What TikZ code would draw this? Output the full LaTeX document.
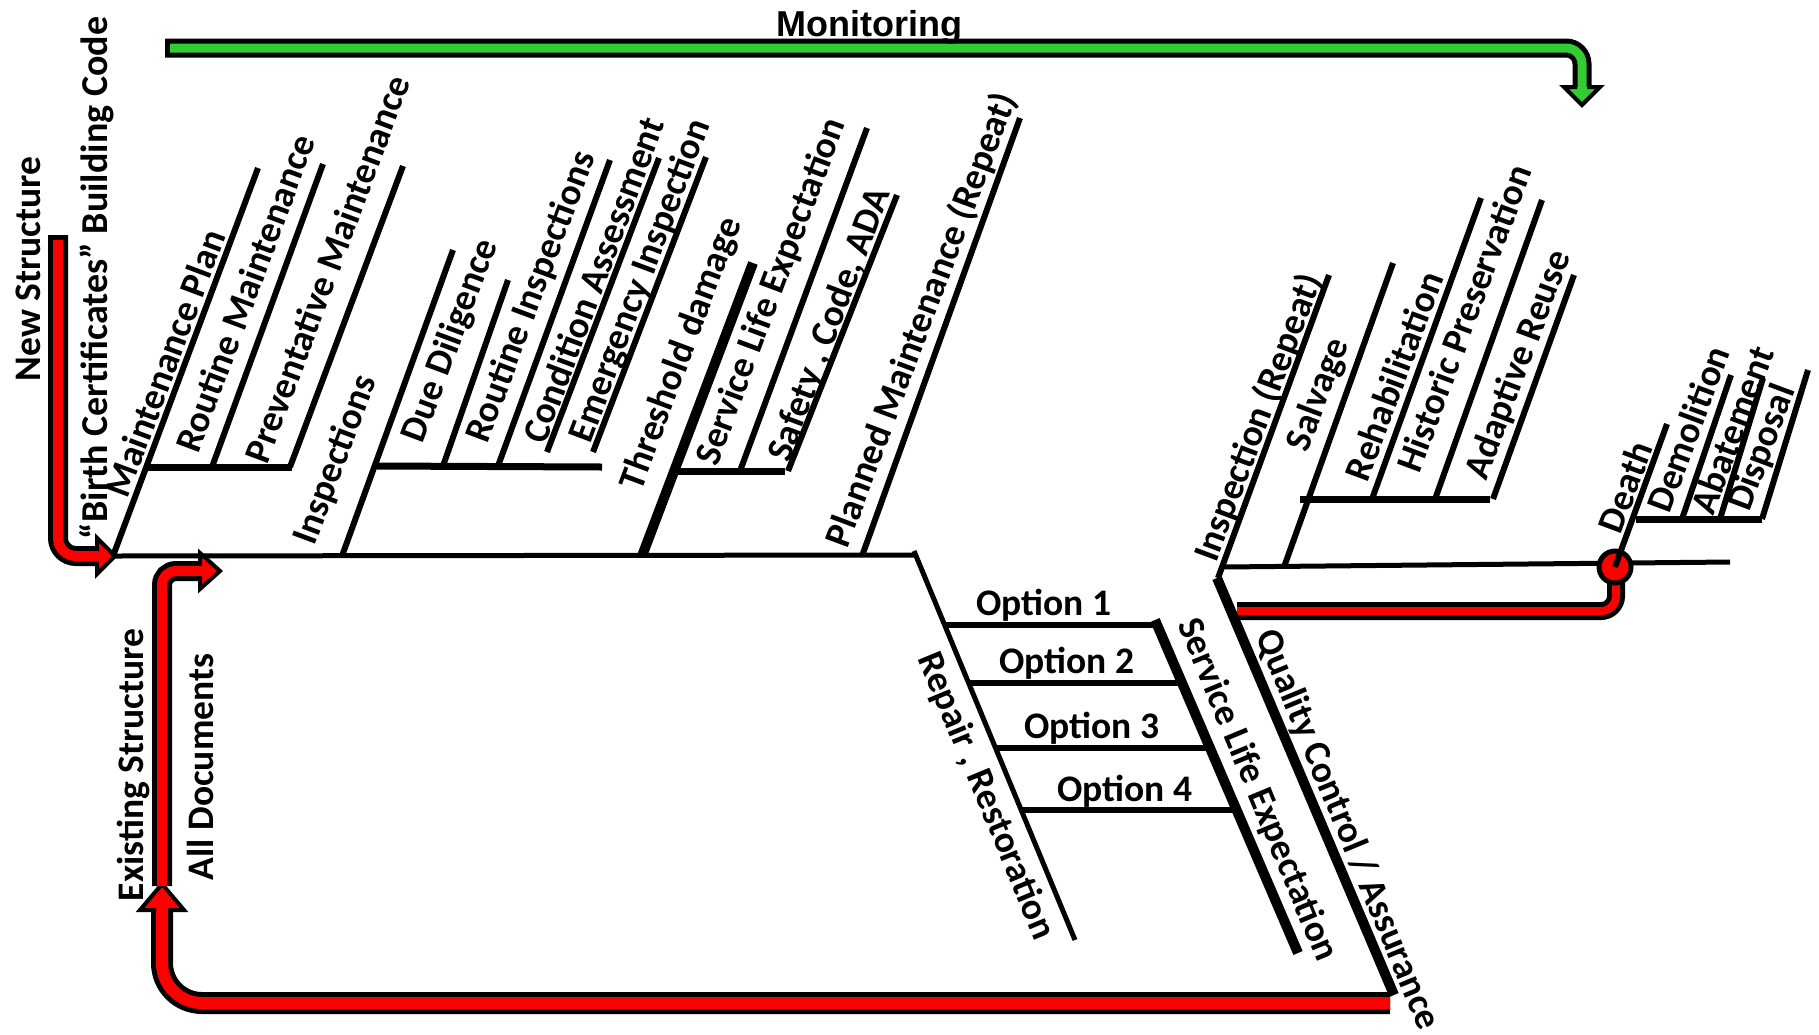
\documentclass[tikz,border=0pt]{standalone}
\usepackage{fontspec}
\setmainfont{Carlito}
\newfontfamily\monfont{Liberation Sans}
\definecolor{lgreen}{RGB}{50,205,50}
\begin{document}
\begin{tikzpicture}[x=1pt,y=-1pt,
  lbl/.style={font=\fontsize{37.5}{42}\selectfont\bfseries, inner sep=0pt},
  up/.style={lbl, rotate=69.5},
  dn/.style={lbl, rotate=-67.5},
  vert/.style={lbl, rotate=90},
  spine/.style={line width=5pt},
  branch/.style={line width=6pt},
  subsp/.style={line width=7pt},
  heavy/.style={line width=10pt},
  headst/.style={draw=black, line width=4pt, line join=miter, miter limit=20}
]
\useasboundingbox (0,0) rectangle (1819,1034);

% ---------- coordinates ----------
\coordinate (s0) at (113,556);
\coordinate (s1) at (916,555);
\coordinate (r0) at (914,551);
\coordinate (r1) at (1075,940);
% cluster A
\coordinate (a0) at (258,168);
\coordinate (sa0) at (148,467);
\coordinate (sa1) at (292,467);
\coordinate (a1b) at (212,467);
\coordinate (a1t) at (323,164);
\coordinate (a2b) at (290,467);
\coordinate (a2t) at (403,166);
% cluster B
\coordinate (b0b) at (342,556);
\coordinate (b0t) at (453,250);
\coordinate (sb0) at (377,466);
\coordinate (sb1) at (602,467);
\coordinate (b1b) at (443,466);
\coordinate (b1t) at (508,280);
\coordinate (b2b) at (498,466);
\coordinate (b2t) at (610,160);
\coordinate (b3b) at (547,452);
\coordinate (b3t) at (659,158);
\coordinate (b4b) at (593,452);
\coordinate (b4t) at (706,157);
% cluster C
\coordinate (c0b) at (642,556);
\coordinate (c0t) at (753,263);
\coordinate (sc0) at (677,471);
\coordinate (sc1) at (785,471);
\coordinate (c1b) at (740,471);
\coordinate (c1t) at (867,128);
\coordinate (c2b) at (788,471);
\coordinate (c2t) at (897,195);
\coordinate (pmb) at (862,556);
\coordinate (pmt) at (1020,118);
% options
\coordinate (o1a) at (945,625);  \coordinate (o1b) at (1160,625);
\coordinate (o2a) at (969,683);  \coordinate (o2b) at (1183,683);
\coordinate (o3a) at (995,748);  \coordinate (o3b) at (1211,748);
\coordinate (o4a) at (1021,810); \coordinate (o4b) at (1238,810);
\coordinate (sl0) at (1155,620);
\coordinate (sl1) at (1298,953);
\coordinate (qc0) at (1217,578);
\coordinate (qc1) at (1394,995);
% right part
\coordinate (rs0) at (1223,567);
\coordinate (rs1) at (1730,562);
\coordinate (ir0) at (1218,578);
\coordinate (ir1) at (1329,275);
\coordinate (sv0) at (1284,567);
\coordinate (sv1) at (1393,263);
\coordinate (sd0) at (1300,499);
\coordinate (sd1) at (1490,499);
\coordinate (rh0) at (1372,499);
\coordinate (rh1) at (1481,198);
\coordinate (hp0) at (1434,502);
\coordinate (hp1) at (1542,200);
\coordinate (ar0) at (1493,499);
\coordinate (ar1) at (1574,275);
\coordinate (dc) at (1615,567);
\coordinate (dt) at (1667,424);
\coordinate (se0) at (1636,519);
\coordinate (se1) at (1762,519);
\coordinate (dm0) at (1682,519);
\coordinate (dm1) at (1731,375);
\coordinate (ab0) at (1720,519);
\coordinate (ab1) at (1763,378);
\coordinate (dp0) at (1762,519);
\coordinate (dp1) at (1808,370);

% ---------- green monitoring arrow ----------
\coordinate (g0) at (165,48);
\coordinate (g0i) at (170,48);
\coordinate (gb) at (1582,87);
\draw[line width=19pt, rounded corners=16pt] (g0) -| (gb);
\draw[lgreen, line width=9pt, rounded corners=16pt] (g0i) -| (gb);
\path[headst, fill=lgreen] (1577,87) -- (1564,87) -- (1582,105) -- (1600,87) -- (1587,87);
\node[font=\fontsize{36}{40}\selectfont\monfont\bfseries, anchor=base, inner sep=0pt] (mon) at (869,36) {Monitoring};

% ---------- red arrows ----------
% New structure
\draw[line width=20pt, rounded corners=18pt] (58,235) |- (97,556);
\draw[red, line width=10pt, rounded corners=18pt] (58,240) |- (97,556);
\path[headst, fill=red] (97,551) -- (97,538) -- (115,556) -- (97,574) -- (97,561);
% bottom loop
\draw[line width=22pt, rounded corners=40pt] (1390,1003) -| (162,910);
\draw[red, line width=12pt, rounded corners=40pt] (1390,1003) -| (162,910);
\path[headst, fill=red] (156,910) -- (140,910) -- (162,884) -- (184,910) -- (168,910);
% all documents
\draw[line width=20pt, rounded corners=14pt] (162,886) |- (200,571);
\draw[red, line width=10pt, rounded corners=14pt] (162,886) |- (200,571);
\path[headst, fill=red] (200,566) -- (200,553) -- (220,571) -- (200,589) -- (200,576);
% quality loop
\draw[line width=18pt, rounded corners=15pt] (1237,611) -| (1616,583);
\draw[red, line width=8pt, rounded corners=15pt] (1237,611) -| (1616,583);

% ---------- spine and bones ----------
\draw[spine] (s0) -- (s1);
\draw[spine] (r0) -- (r1);
\draw[branch] (s0) -- (a0);
\draw[subsp] (sa0) -- (sa1);
\draw[branch] (a1b) -- (a1t);
\draw[branch] (a2b) -- (a2t);
\draw[branch] (b0b) -- (b0t);
\draw[subsp] (sb0) -- (sb1);
\draw[branch] (b1b) -- (b1t);
\draw[branch] (b2b) -- (b2t);
\draw[branch] (b3b) -- (b3t);
\draw[branch] (b4b) -- (b4t);
\draw[heavy] (c0b) -- (c0t);
\draw[subsp] (sc0) -- (sc1);
\draw[branch] (c1b) -- (c1t);
\draw[branch] (c2b) -- (c2t);
\draw[branch] (pmb) -- (pmt);
\draw[branch] (o1a) -- (o1b);
\draw[branch] (o2a) -- (o2b);
\draw[branch] (o3a) -- (o3b);
\draw[branch] (o4a) -- (o4b);
\draw[heavy] (sl0) -- (sl1);
\draw[heavy] (qc0) -- (qc1);
\draw[spine] (rs0) -- (rs1);
\draw[branch] (ir0) -- (ir1);
\draw[branch] (sv0) -- (sv1);
\draw[subsp] (sd0) -- (sd1);
\draw[branch] (rh0) -- (rh1);
\draw[branch] (hp0) -- (hp1);
\draw[branch] (ar0) -- (ar1);
\draw[subsp] (se0) -- (se1);
\draw[branch] (dm0) -- (dm1);
\draw[branch] (ab0) -- (ab1);
\draw[branch] (dp0) -- (dp1);
\node[circle, draw=black, line width=5pt, fill=red, minimum size=32pt, inner sep=0pt] (deathc) at (dc) {};
\draw[branch] (dc) -- (dt);

% ---------- labels ----------
\node[vert] (lns) at (28,269) {New Structure};
\node[vert, font=\fontsize{38}{43}\selectfont\bfseries] (lbc) at (97,278) {“Birth Certificates” Building Code};
\node[up] (l1) at (165,363) {Maintenance Plan};
\node[up] (l2) at (245,293) {Routine Maintenance};
\node[up] (l3) at (327,269) {Preventative Maintenance};
\node[up] (l4) at (336,460) {Inspections};
\node[up] (l5) at (451,341) {Due Diligence};
\node[up] (l6) at (532,297) {Routine Inspections};
\node[up] (l7) at (593,280) {Condition Assessment};
\node[up] (l8) at (641,281) {Emergency Inspection};
\node[up] (l9) at (682,354) {Threshold damage};
\node[up] (l10) at (772,292) {Service Life Expectation};
\node[up] (l11) at (830,325) {Safety , Code, ADA};
\node[up] (l12) at (922,320) {Planned Maintenance (Repeat)};
\node[up] (l13) at (1259,418) {Inspection (Repeat)};
\node[up] (l14) at (1319,395) {Salvage};
\node[up] (l15) at (1394,376) {Rehabilitation};
\node[up] (l16) at (1464,318) {Historic Preservation};
\node[up] (l17) at (1519,365) {Adaptive Reuse};
\node[up] (l18) at (1625,487) {Death};
\node[up] (l19) at (1688,429) {Demolition};
\node[up] (l20) at (1732,430) {Abatement};
\node[up] (l21) at (1763,448) {Disposal};
\node[lbl] (op1) at (1044,605) {Option 1};
\node[lbl] (op2) at (1067,663) {Option 2};
\node[lbl] (op3) at (1092,728) {Option 3};
\node[lbl] (op4) at (1125,791) {Option 4};
\node[dn] (lrr) at (986,796) {Repair , Restoration};
\node[dn] (lsl) at (1257,790) {Service Life Expectation};
\node[dn] (lqc) at (1347,830) {Quality Control / Assurance};
\node[vert] (les) at (133,765) {Existing Structure};
\node[vert] (lad) at (200,767) {All Documents};
\end{tikzpicture}
\end{document}
